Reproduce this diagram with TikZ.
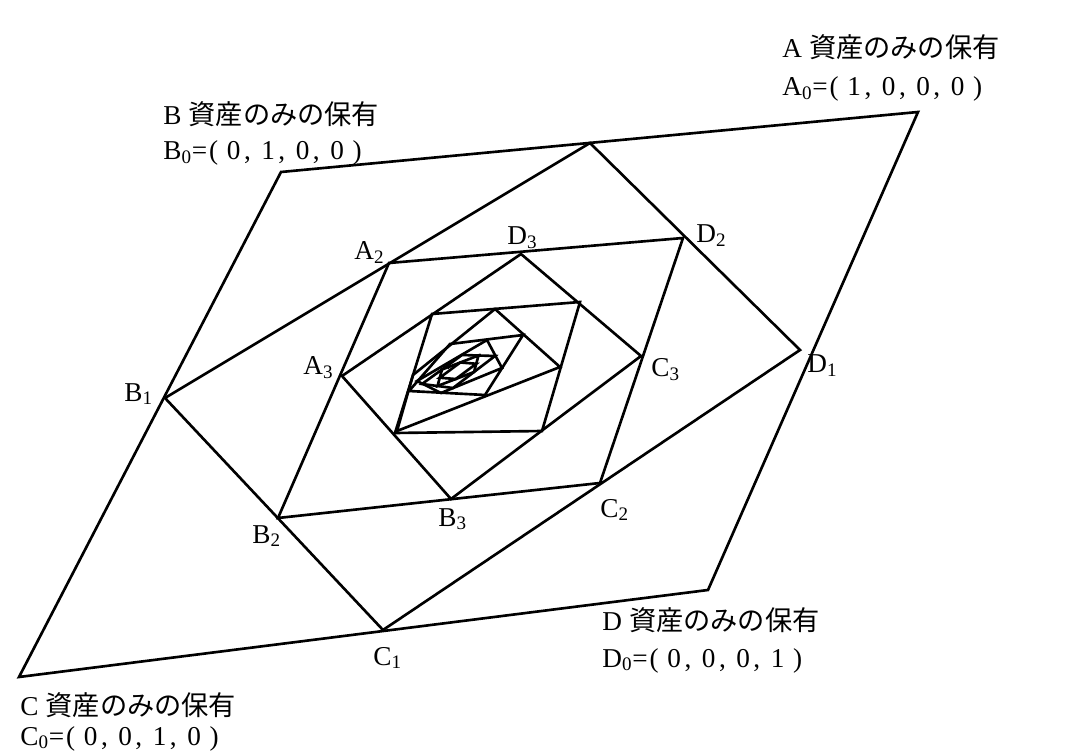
\documentclass[tikz,border=0pt]{standalone}
\usepackage{fontspec}
\setmainfont{Liberation Serif}
\newfontfamily\cjk{Noto Sans CJK JP}
\usetikzlibrary{calc}

\newcommand\sep{\kern2pt,\kern6pt}

\begin{document}
\begin{tikzpicture}[
  x=0.02cm, y=-0.02cm,
  quad/.style={draw, line width=1.5pt, line join=miter},
  vlab/.style={anchor=base west, inner sep=0pt, font=\fontsize{15.5}{18}\selectfont},
  holdtxt/.style={anchor=base west, inner sep=0pt, font=\fontsize{15.5}{20}\selectfont}
]
  \useasboundingbox (0,0) rectangle (1072,753);

  % level 0: holding only one asset
  \coordinate (A0) at (918,112);
  \coordinate (B0) at (281,172);
  \coordinate (C0) at (19,677);
  \coordinate (D0) at (708,590);
  % level 1
  \coordinate (A1) at (590,143);
  \coordinate (B1) at (165,398);
  \coordinate (C1) at (383,630);
  \coordinate (D1) at (800,350);
  % level 2
  \coordinate (A2) at (389,263);
  \coordinate (B2) at (278,518);
  \coordinate (C2) at (600,483);
  \coordinate (D2) at (683,238);
  % level 3
  \coordinate (A3) at (342,376);
  \coordinate (B3) at (451,499);
  \coordinate (C3) at (641,356);
  \coordinate (D3) at (521,254);
  % level 4
  \coordinate (A4) at (395,433);
  \coordinate (B4) at (542,431);
  \coordinate (C4) at (580,302);
  \coordinate (D4) at (432,314);
  % level 5
  \coordinate (A5) at (397,431);
  \coordinate (B5) at (560,367);
  \coordinate (C5) at (495,309);
  \coordinate (D5) at (413,375);
  % level 6
  \coordinate (A6) at (485,395);
  \coordinate (B6) at (523,335);
  \coordinate (C6) at (450,344);
  \coordinate (D6) at (409,391);
  % level 7
  \coordinate (A7) at (502,368);
  \coordinate (B7) at (487,340);
  \coordinate (C7) at (417,381);
  \coordinate (D7) at (441,393);
  % level 8
  \coordinate (A8) at (495,356);
  \coordinate (B8) at (462,355);
  \coordinate (C8) at (422,384);
  \coordinate (D8) at (453,388);
  % level 9 and 10 (halfway points)
  \coordinate (A9) at ($(A8)!0.5!(B8)$);
  \coordinate (B9) at ($(B8)!0.5!(C8)$);
  \coordinate (C9) at ($(C8)!0.5!(D8)$);
  \coordinate (D9) at ($(D8)!0.5!(A8)$);
  \coordinate (A10) at ($(A9)!0.5!(B9)$);
  \coordinate (B10) at ($(B9)!0.5!(C9)$);
  \coordinate (C10) at ($(C9)!0.5!(D9)$);
  \coordinate (D10) at ($(D9)!0.5!(A9)$);

  \foreach \k in {0,...,10}
    \draw[quad] (A\k) -- (B\k) -- (C\k) -- (D\k) -- cycle;
  \coordinate (m1) at (448,369);
  \coordinate (m2) at (451,366);
  \draw[line width=0.5pt] (m1) -- (m2);

  % vertex labels
  \node[vlab] (lA2) at (354,260) {A\textsubscript{2}};
  \node[vlab] (lD3) at (507,245) {D\textsubscript{3}};
  \node[vlab] (lD2) at (696,243) {D\textsubscript{2}};
  \node[vlab] (lA3) at (303,375) {A\textsubscript{3}};
  \node[vlab] (lC3) at (651,377) {C\textsubscript{3}};
  \node[vlab] (lD1) at (807,373) {D\textsubscript{1}};
  \node[vlab] (lB1) at (124,401) {B\textsubscript{1}};
  \node[vlab] (lB2) at (252,543) {B\textsubscript{2}};
  \node[vlab] (lB3) at (438,526) {B\textsubscript{3}};
  \node[vlab] (lC2) at (600,517) {C\textsubscript{2}};
  \node[vlab] (lC1) at (373,665) {C\textsubscript{1}};

  % corner captions
  \node[holdtxt] (Atit) at (782,58) {A\kern4pt{\cjk 資産のみの保有}};
  \node[holdtxt] (Atup) at (782,96) {A\textsubscript{0}=\kern1pt(\kern5pt1\sep0\sep0\sep0\kern5pt)};
  \node[holdtxt] (Btit) at (163,125) {B\kern4pt{\cjk 資産のみの保有}};
  \node[holdtxt] (Btup) at (163,160) {B\textsubscript{0}=\kern1pt(\kern5pt0\sep1\sep0\sep0\kern5pt)};
  \node[holdtxt] (Ctit) at (20,715) {C\kern4pt{\cjk 資産のみの保有}};
  \node[holdtxt] (Ctup) at (20,745) {C\textsubscript{0}=\kern1pt(\kern5pt0\sep0\sep1\sep0\kern5pt)};
  \node[holdtxt] (Dtit) at (602,630) {D\kern4pt{\cjk 資産のみの保有}};
  \node[holdtxt] (Dtup) at (602,667) {D\textsubscript{0}=\kern1pt(\kern5pt0\sep0\sep0\sep1\kern5pt)};
\end{tikzpicture}
\end{document}
